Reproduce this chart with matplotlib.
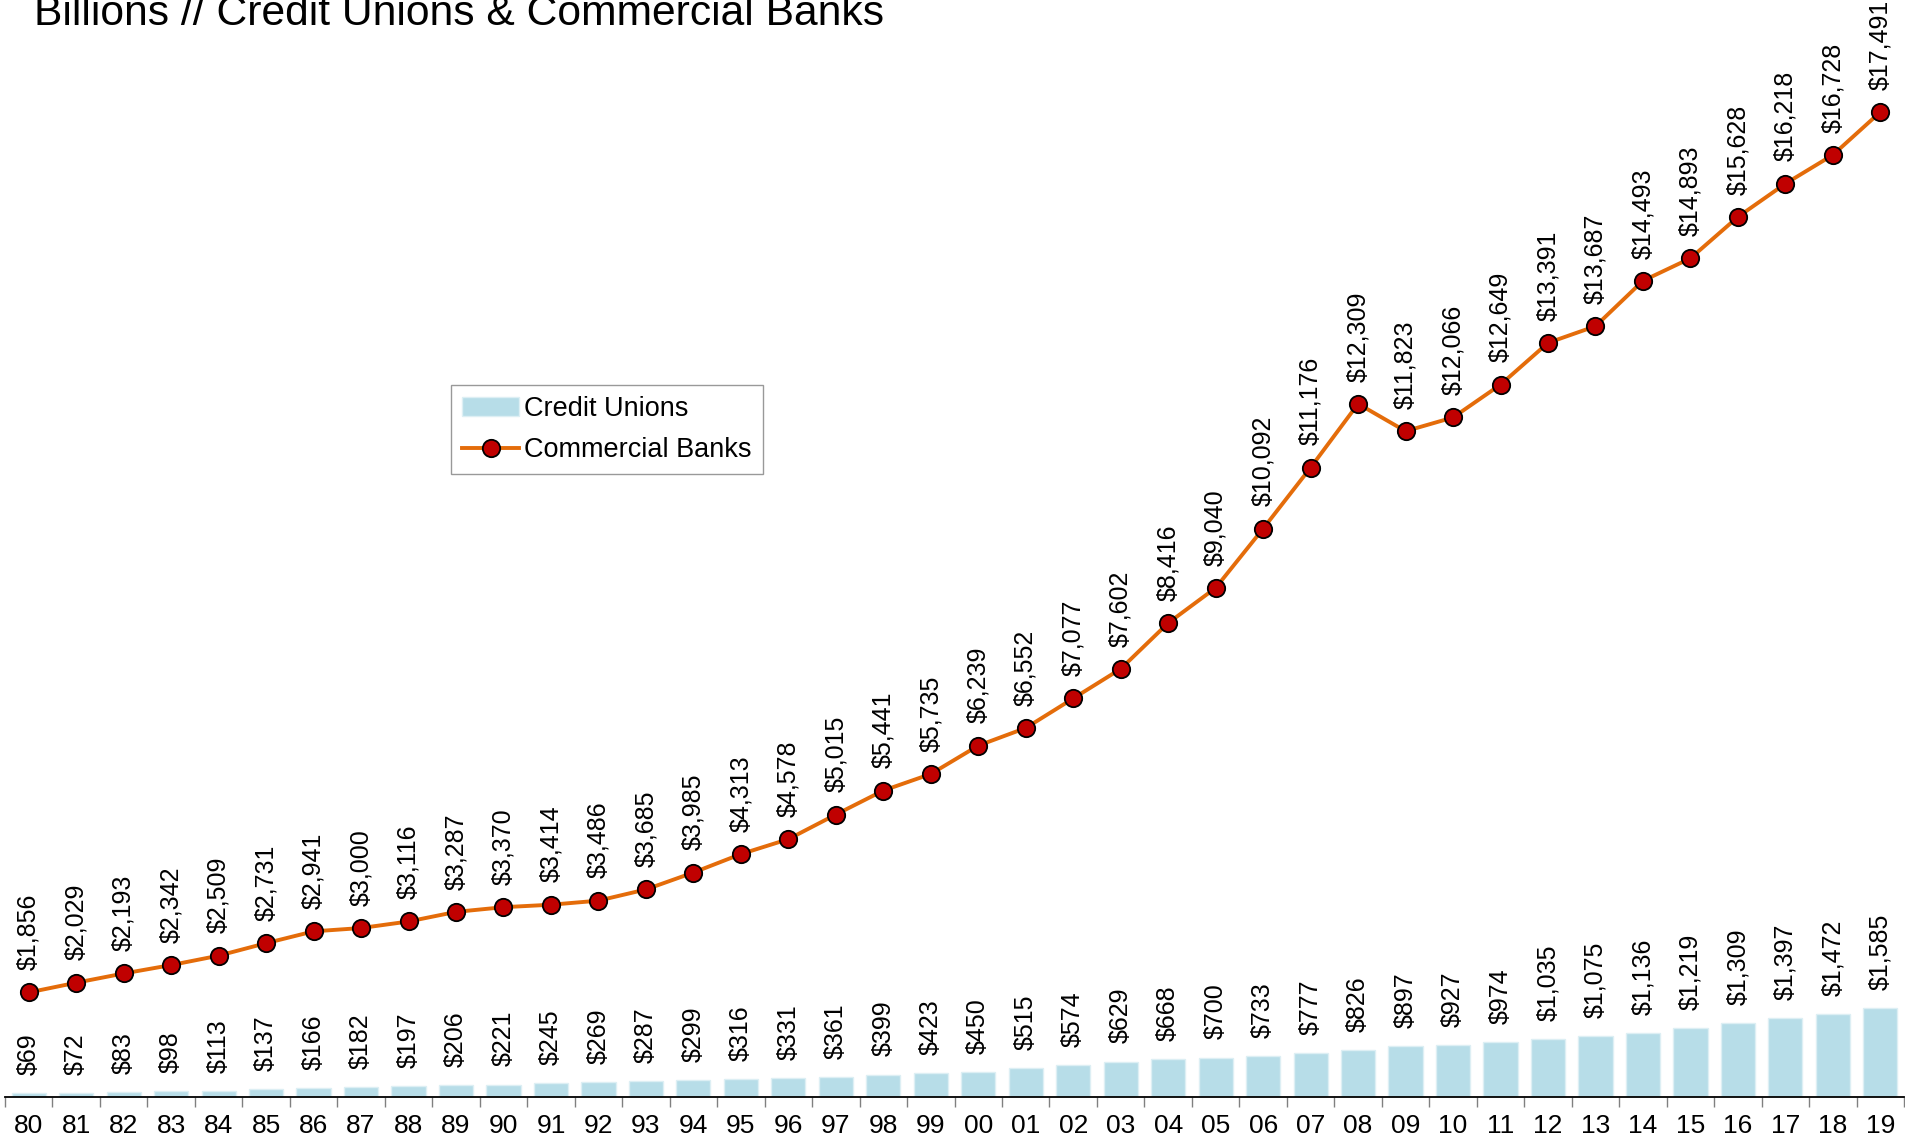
import numpy as np
import matplotlib.pyplot as plt

plt.rcParams['font.family'] = ['Liberation Sans', 'DejaVu Sans']

years = ['80', '81', '82', '83', '84', '85', '86', '87', '88', '89',
         '90', '91', '92', '93', '94', '95', '96', '97', '98', '99',
         '00', '01', '02', '03', '04', '05', '06', '07', '08', '09',
         '10', '11', '12', '13', '14', '15', '16', '17', '18', '19']

credit_unions = [69, 72, 83, 98, 113, 137, 166, 182, 197, 206,
                 221, 245, 269, 287, 299, 316, 331, 361, 399, 423,
                 450, 515, 574, 629, 668, 700, 733, 777, 826, 897,
                 927, 974, 1035, 1075, 1136, 1219, 1309, 1397, 1472, 1585]

commercial_banks = [1856, 2029, 2193, 2342, 2509, 2731, 2941, 3000, 3116, 3287,
                    3370, 3414, 3486, 3685, 3985, 4313, 4578, 5015, 5441, 5735,
                    6239, 6552, 7077, 7602, 8416, 9040, 10092, 11176, 12309, 11823,
                    12066, 12649, 13391, 13687, 14493, 14893, 15628, 16218, 16728, 17491]

x = np.arange(len(years))

fig = plt.figure(figsize=(19.06, 11.39), dpi=100)
ax = fig.add_axes([0.0026, 0.0369, 0.9964, 0.9394])

bars = ax.bar(x, credit_unions, width=0.72, color='#B7DDE8', edgecolor='#DDEFF4',
              linewidth=1, label='Credit Unions', zorder=2)
line, = ax.plot(x, commercial_banks, color='#E46C0A', linewidth=2.8, marker='o',
                markersize=12.5, markerfacecolor='#C00000', markeredgecolor='black',
                markeredgewidth=1.3, label='Commercial Banks', zorder=3)

# value labels, rotated
for xi, v in zip(x, credit_unions):
    ax.annotate(f'${v:,}', (xi, v), xytext=(0, 13), textcoords='offset points',
                rotation=90, ha='center', va='bottom', fontsize=18,
                annotation_clip=False)
for xi, v in zip(x, commercial_banks):
    ax.annotate(f'${v:,}', (xi, v), xytext=(0, 16), textcoords='offset points',
                rotation=90, ha='center', va='bottom', fontsize=18,
                annotation_clip=False)

ax.set_xlim(-0.5, len(years) - 0.5)
ax.set_ylim(0, 19000)

# tick marks between categories, labels under each bar
ax.set_xticks(np.arange(len(years) + 1) - 0.5)
ax.set_xticklabels([])
ax.tick_params(axis='x', which='major', length=7, width=1, color='#808080',
               direction='out')
ax.set_xticks(x, minor=True)
ax.set_xticklabels(years, minor=True, fontsize=19)
ax.tick_params(axis='x', which='minor', length=0, pad=12)

ax.set_yticks([])
for side in ['left', 'right', 'top']:
    ax.spines[side].set_visible(False)
ax.spines['bottom'].set_linewidth(1.3)
ax.spines['bottom'].set_color('black')

leg = ax.legend([bars, line], ['Credit Unions', 'Commercial Banks'],
                loc='upper left', bbox_to_anchor=(0.235, 0.665), fontsize=19.5,
                frameon=True, fancybox=False, edgecolor='#808080',
                handlelength=2.1, handletextpad=0.2, borderpad=0.4,
                labelspacing=0.55, borderaxespad=0)
leg.get_frame().set_linewidth(1.0)

fig.text(0.0178, 0.978, 'Billions // Credit Unions & Commercial Banks',
         fontsize=30.7, ha='left', va='baseline')

fig.savefig('out.png', dpi=100)
